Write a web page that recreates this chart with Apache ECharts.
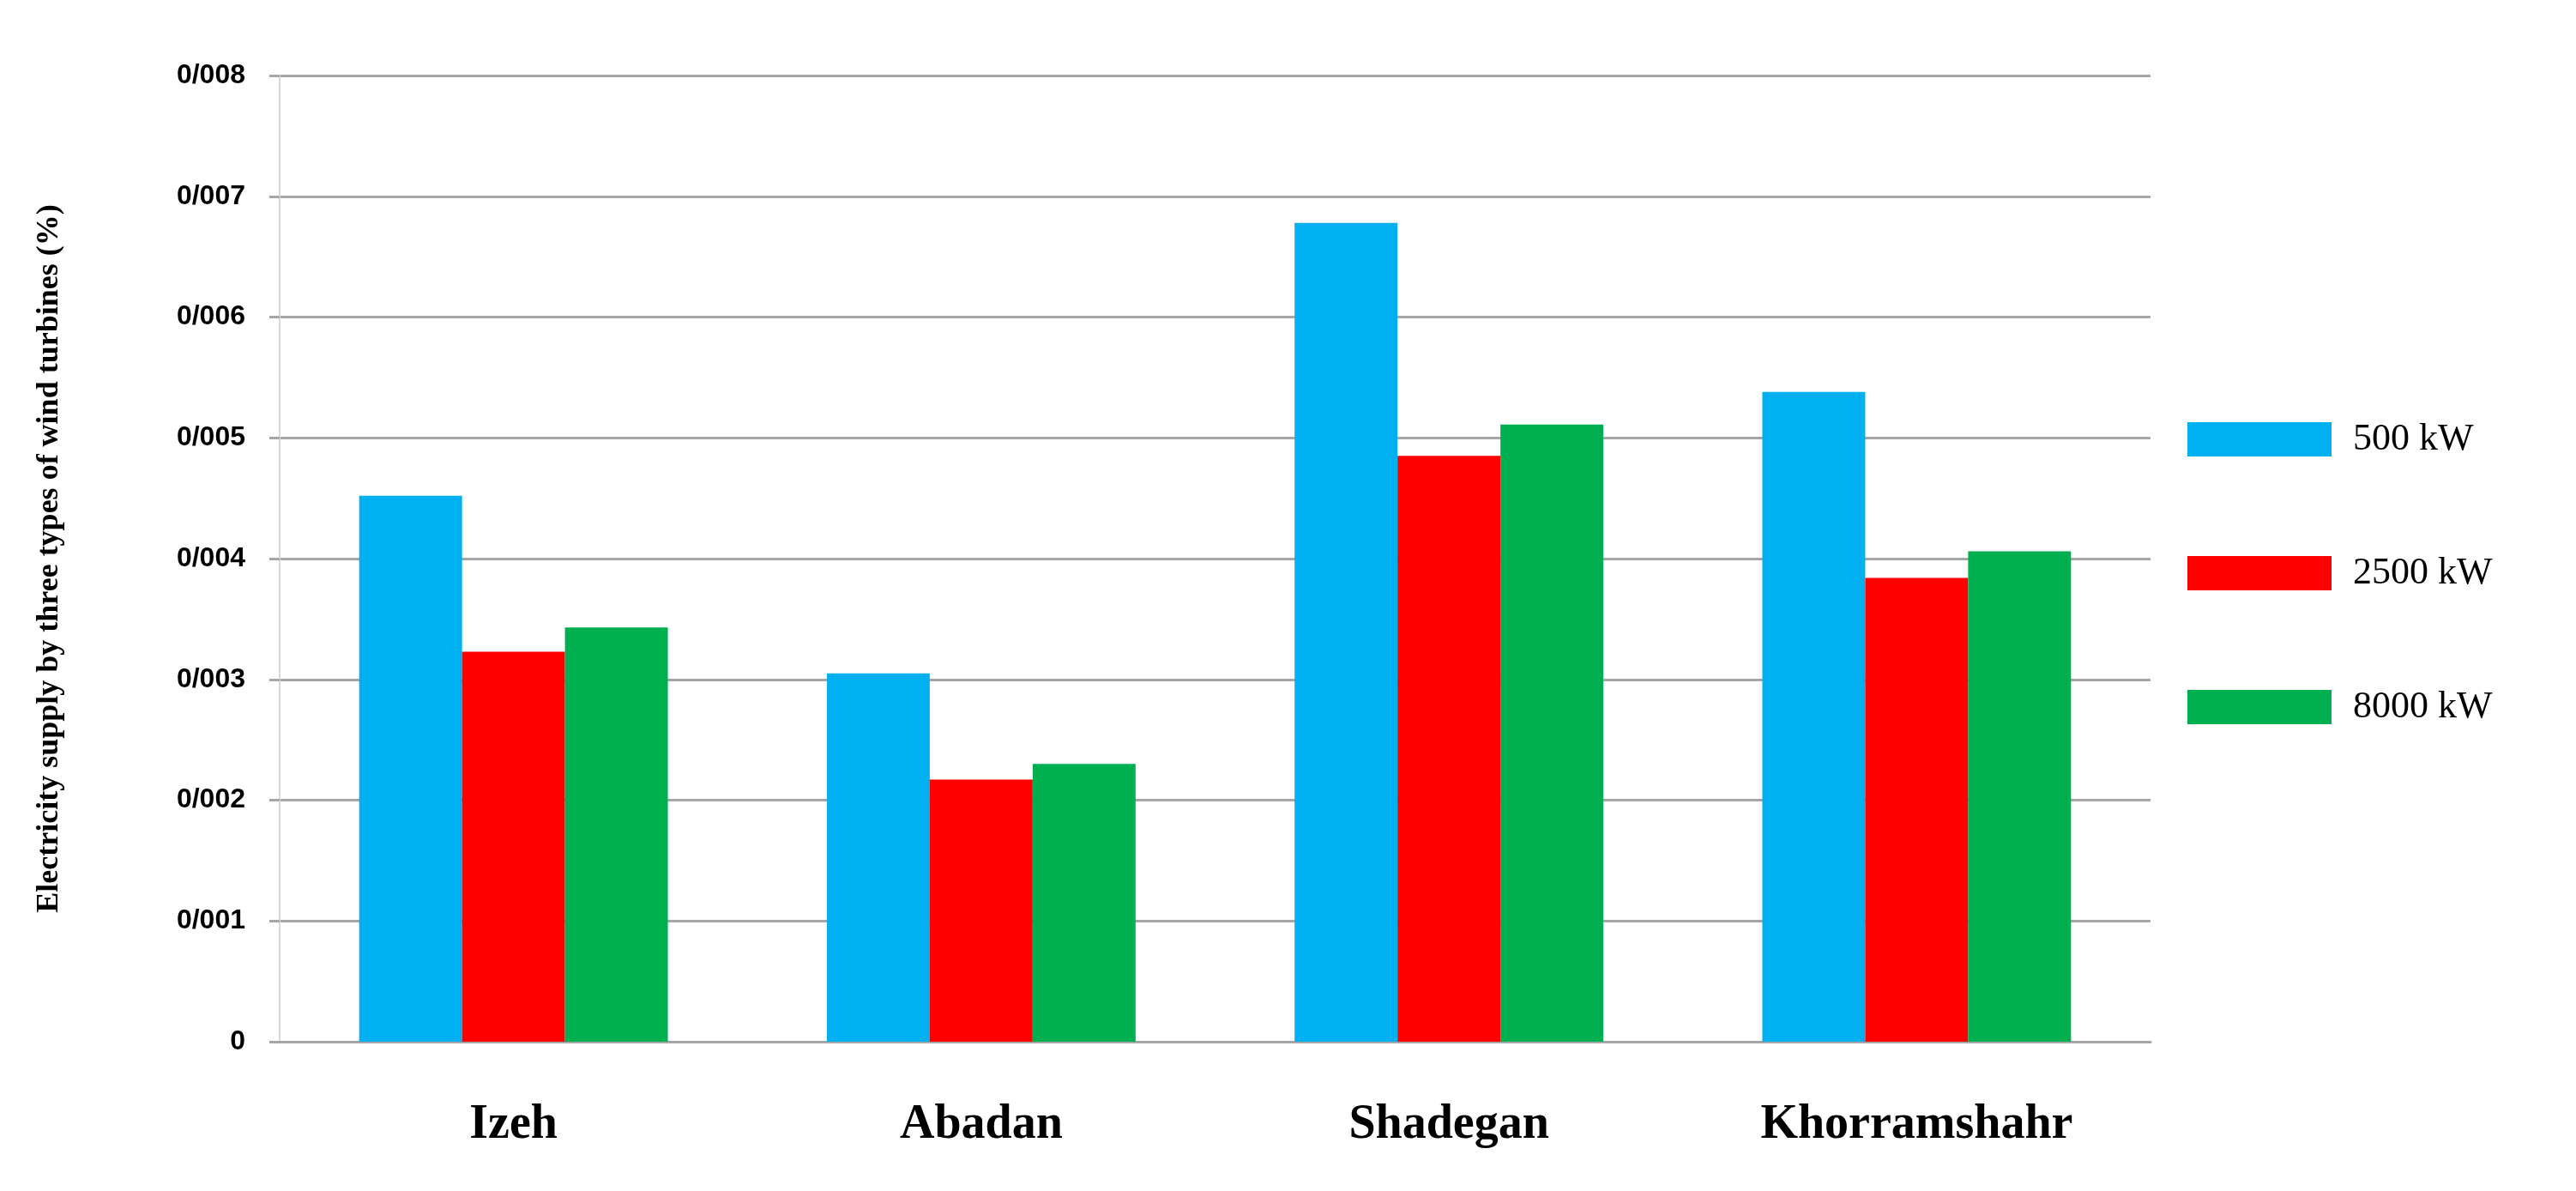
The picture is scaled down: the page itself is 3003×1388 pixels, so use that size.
<!DOCTYPE html>
<html><head><meta charset="utf-8">
<script src="https://cdn.jsdelivr.net/npm/echarts@6/dist/echarts.min.js"></script>
<style>html,body{margin:0;padding:0;background:#fff}#c{width:3003px;height:1388px}</style>
</head><body><div id="c"></div>
<script>
const categories = ['Izeh','Abadan','Shadegan','Khorramshahr'];
const s500 = [0.00452,0.00305,0.00678,0.00538];
const s2500 = [0.00323,0.00217,0.00485,0.00384];
const s8000 = [0.00343,0.00230,0.00511,0.00406];
const seriesNames = ['500 kW','2500 kW','8000 kW'];
const colors = ['#00b0f0','#ff0000','#00b050'];
const chart = echarts.init(document.getElementById('c'));
const fmt = v => v === 0 ? '0' : '0/' + String(Math.round(v*1000)).padStart(3,'0');
chart.setOption({
  animation:false,
  color: colors,
  grid:{left:326,right:496,top:88,bottom:174},
  legend:{orient:'vertical',left:2545,top:485,itemWidth:168,itemHeight:40,itemGap:112,
    textStyle:{fontFamily:'Liberation Serif',fontSize:44,color:'#000',padding:[0,0,0,20]},
    data:seriesNames.map(n=>({name:n,icon:'rect'}))},
  xAxis:{type:'category',data:categories,
    axisLine:{lineStyle:{color:'#a6a6a6',width:3}},axisTick:{show:false},
    axisLabel:{margin:70,fontFamily:'Liberation Serif',fontWeight:'bold',fontSize:56,color:'#000'}},
  yAxis:{type:'value',min:0,max:0.008,interval:0.001,
    name:'Electricity supply by three types of wind turbines (%)',nameLocation:'middle',nameGap:250,
    nameTextStyle:{fontFamily:'Liberation Serif',fontWeight:'bold',fontSize:36,color:'#000'},
    axisLine:{show:true,lineStyle:{color:'#d9d9d9',width:2}},
    axisTick:{show:true,length:12,lineStyle:{color:'#a6a6a6',width:3}},
    splitLine:{lineStyle:{color:'#a6a6a6',width:3}},
    axisLabel:{formatter:fmt,margin:40,fontFamily:'Liberation Sans',fontWeight:'bold',fontSize:32,color:'#000'}},
  series:[s500,s2500,s8000].map((d,i)=>({name:seriesNames[i],type:'bar',data:d,barGap:'0%',barCategoryGap:'34%'}))
});
</script></body></html>
